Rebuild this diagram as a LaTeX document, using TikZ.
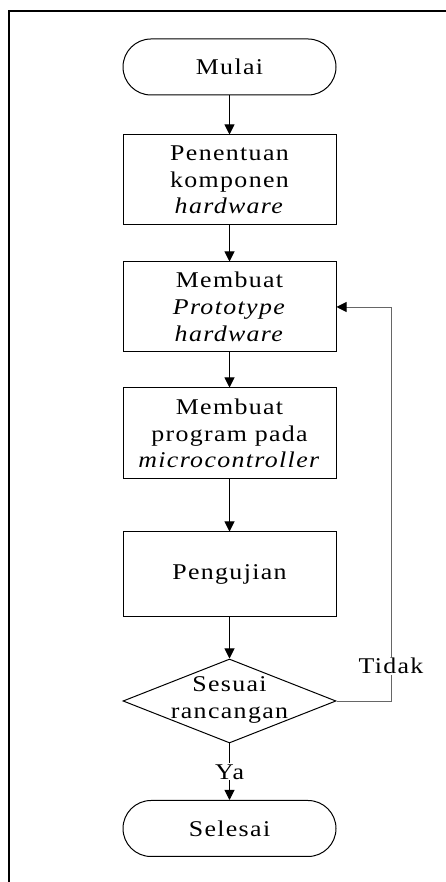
\documentclass[tikz,border=0pt]{standalone}
\usepackage{fontspec}
\setmainfont[FakeStretch=1.15, LetterSpace=6]{Liberation Serif}
\usetikzlibrary{shapes.geometric, positioning, arrows.meta}
\tikzset{
	x=1pt, y=1pt, % one unit is one point
	>={Triangle[length=10pt,width=10pt,black]}, % filled arrow heads
	every node/.style={font=\fontsize{22.5}{26.7}\selectfont, align=center, text=black},
	proses/.style={draw, line width=1pt, minimum width=213pt, inner sep=0pt}, % the process boxes
	terminal/.style={proses, rounded corners=28pt, minimum height=56pt}, % start and end
	keputusan/.style={draw, line width=1pt, diamond, minimum width=213pt, minimum height=84pt, inner sep=0pt},
	alur/.style={->, line width=1pt}, % arrows between the steps
	balik/.style={->, line width=0.9pt, draw=gray!80!black}, % the loop back
	ket/.style={fill=white, inner sep=1pt}, % labels on the lines
}
\begin{document}
\begin{tikzpicture}
	\useasboundingbox (0,0) rectangle (446,882);
	\draw[line width=1.6pt] (9,0) -- (9,871) -- (446,871);
	\node[terminal] (mulai) at (229.5,815) {Mulai};
	\node[proses, minimum height=90pt] (komponen) at (229.5,702) {Penentuan\\komponen\\\textit{hardware}};
	\node[proses, minimum height=90pt] (prototipe) at (229.5,575) {Membuat\\\textit{Prototype}\\\textit{hardware}};
	\node[proses, minimum height=91pt] (program) at (229.5,448.5) {Membuat\\program pada\\\textit{microcontroller}};
	\node[proses, minimum height=85pt] (uji) at (229.5,307.5) {Pengujian};
	\node[keputusan] (sesuai) at (229.5,181) {};
	\node (sesuaiteks) at (229.5,182) {Sesuai\\rancangan};
	\node[terminal] (selesai) at (229.5,53.5) {Selesai};
	\coordinate (sudut) at (391,181);
	\coordinate (sudutatas) at (391,575);
	\draw[alur] (mulai) -- (komponen);
	\draw[alur] (komponen) -- (prototipe);
	\draw[alur] (prototipe) -- (program);
	\draw[alur] (program) -- (uji);
	\draw[alur] (uji) -- (sesuai.north);
	\draw[alur] (sesuai.south) -- node[ket]{Ya} (selesai);
	\draw[balik] (sesuai.east) -- (sudut) -- (sudutatas) -- (prototipe.east);
	\node[ket] (tidak) at (391,216) {Tidak};
\end{tikzpicture}
\end{document}
